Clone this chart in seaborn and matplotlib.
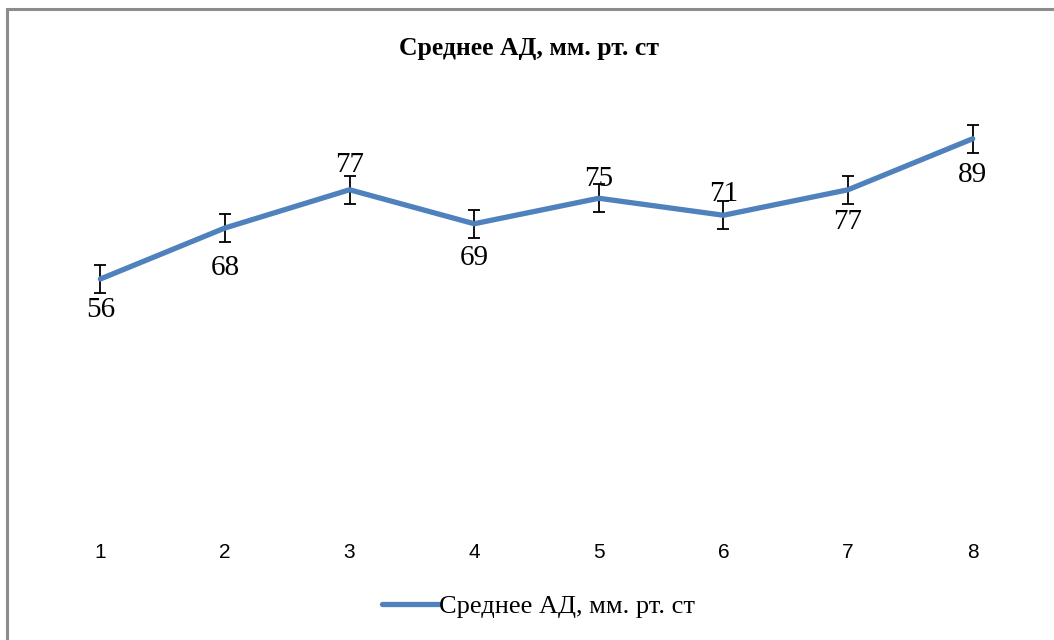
import matplotlib
matplotlib.use("Agg")
import matplotlib.pyplot as plt
import seaborn as sns
import pandas as pd
from matplotlib.patches import Rectangle

# Data
points = [1, 2, 3, 4, 5, 6, 7, 8]
pressure = [56, 68, 77, 69, 75, 71, 77, 89]
error = [3.3, 3.3, 3.3, 3.3, 3.3, 3.3, 3.3, 3.3]
series_name = "Среднее АД, мм. рт. ст"

# label offsets (points), positive = above the point
label_dy = [-22, -29, 18, -25, 14, 15, -23, -26]

df = pd.DataFrame({"point": points, "value": pressure, "err": error})

sns.set_style("white")
plt.rcParams["font.family"] = ["Liberation Serif", "DejaVu Serif"]
plt.rcParams["text.color"] = "black"

blue = "#4F81BD"

fig = plt.figure(figsize=(10.54, 6.4), dpi=100)
ax = fig.add_axes([38 / 1054, 1 - 517 / 640, 997 / 1054, 425 / 640])

ax.errorbar(df["point"], df["value"], yerr=df["err"], fmt="none",
            ecolor="black", elinewidth=1.3, capsize=4.5, capthick=1.3, zorder=2)
sns.lineplot(data=df, x="point", y="value", ax=ax, color=blue, linewidth=3.8,
             label=series_name, zorder=3, legend=False)

for x, y, dy in zip(points, pressure, label_dy):
    ax.annotate(str(y), (x, y), xytext=(0, dy), textcoords="offset points",
                ha="center", va="center", fontsize=21, color="black", zorder=4)

ax.set_xlim(0.5, 8.5)
ax.set_ylim(0, 100)
ax.set_yticks([])
ax.set_xticks(points)
ax.set_xticklabels([str(p) for p in points], fontfamily="Liberation Sans",
                   fontsize=15, color="black")
ax.tick_params(axis="x", length=0, pad=19)
ax.set_xlabel("")
ax.set_ylabel("")
for s in ax.spines.values():
    s.set_visible(False)

fig.text(0.502, 1 - 49 / 640, series_name, ha="center", va="center",
         fontsize=18.5, fontweight="bold", color="black")

leg = fig.legend(handles=ax.get_lines()[-1:], labels=[series_name],
                 loc="center", bbox_to_anchor=(0.511, 1 - 606 / 640),
                 frameon=False, fontsize=19, handlelength=2.15, handletextpad=0.0)
for t in leg.get_texts():
    t.set_color("black")
for h in leg.get_lines():
    h.set_linewidth(3.8)
    h.set_solid_capstyle("round")

fig.patches.append(Rectangle((7 / 1054, -0.05), 1.1, 1 - 9 / 640 + 0.05,
                             transform=fig.transFigure, fill=False,
                             edgecolor="#8c8c8c", linewidth=2.2))

fig.savefig("out.png", dpi=100)
